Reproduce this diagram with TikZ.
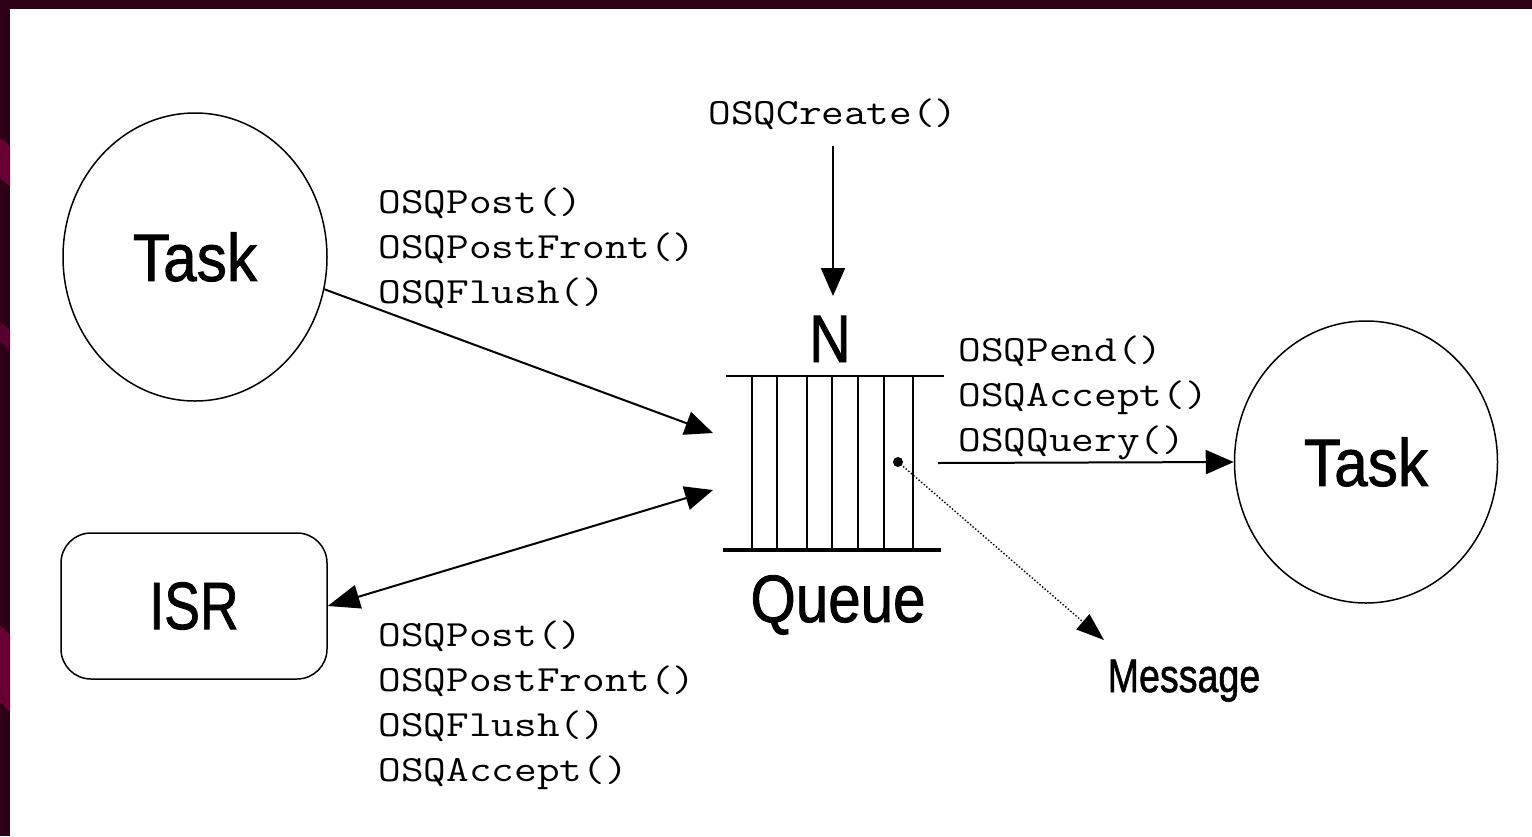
\documentclass[tikz,border=0pt]{standalone}
\usepackage{fontspec}
\setmainfont{Liberation Sans}
\newfontfamily\labelfont[FakeBold=1.3]{Liberation Sans}
\usetikzlibrary{shapes.geometric,arrows.meta}

\definecolor{frameDark}{HTML}{2E0016}
\definecolor{frameMag}{HTML}{560030}
\definecolor{frameRed}{HTML}{680034}

\tikzset{
  task/.style={draw, ellipse, line width=0.75pt, inner sep=0pt, font=\labelfont\fontsize{33.5}{36}\selectfont},
  code/.style={font=\ttfamily\addfontfeatures{FakeBold=0.9}\fontsize{22}{23}\selectfont, inner sep=0pt, anchor=base west},
  big/.style={font=\labelfont\fontsize{33.5}{36}\selectfont, inner sep=0pt, anchor=base},
  arr/.style={line width=1pt, -{Triangle[length=14pt,width=12pt]}},
}
\newcommand{\narrow}[2][0.86]{\scalebox{#1}[1]{#2}}
\newcommand{\codetxt}[1]{\scalebox{1}[0.84]{#1}}

\begin{document}
\begin{tikzpicture}[x=0.5pt, y=-0.5pt]
\useasboundingbox (0,0) rectangle (1532,836);
% frame
\fill[frameDark] (0,0) rectangle (10,836);
\fill[frameRed] (0,138) -- (10,146) -- (10,186) -- (0,178) -- cycle;
\fill[frameMag] (0,322) -- (10,330) -- (10,350) -- (0,342) -- cycle;
\fill[frameRed] (0,625) -- (10,635) -- (10,712) -- (0,702) -- cycle;
\shade[left color=frameDark, middle color=frameMag, right color=frameDark] (0,0) rectangle (1532,8);

% tasks and isr
\node[task, minimum width=132pt, minimum height=144pt] (taskL) at (195,257) {\narrow[0.9]{Task}};
\node[task, minimum width=131.5pt, minimum height=141pt] (taskR) at (1366,462) {\narrow[0.9]{Task}};
\node[draw, rounded corners=15pt, line width=0.75pt, minimum width=133pt, minimum height=73pt,
      inner sep=0pt, font=\labelfont\fontsize{33.5}{36}\selectfont] (isr) at (194,606) {\raisebox{-3.5pt}{\narrow[0.8]{ISR}}};

% queue
\draw[line width=1.2pt] (726,376) -- (944,376);
\draw[line width=2pt] (723,550) -- (941,550);
\foreach \x in {752,777,807,832,858,884,913}
  \draw[line width=1pt] (\x,376) -- (\x,550);
\node[big] (nlab) at (830,362) {\narrow{N}};
\node[big] (queue) at (838,622) {\narrow[0.87]{Queue}};
\coordinate (qin1) at (713,433);
\coordinate (qin2) at (713,490);
\coordinate (qtop) at (833,296);
\coordinate (qout) at (938,463);
\coordinate (qdot) at (898,462);
\fill (qdot) circle (5);

% labels
\node[code, anchor=base] (create) at (833,124) {\codetxt{OSQCreate()}};
\foreach \t [count=\i] in {OSQPost(), OSQPostFront(), OSQFlush()}
  \node[code] (postT\i) at (378,168+45*\i) {\codetxt{\t}};
\foreach \t [count=\i] in {OSQPost(), OSQPostFront(), OSQFlush(), OSQAccept()}
  \node[code] (postI\i) at (378,601+45*\i) {\codetxt{\t}};
\foreach \t [count=\i] in {OSQPend(), OSQAccept(), OSQQuery()}
  \node[code] (pend\i) at (958,316+45*\i) {\codetxt{\t}};
\node[big, font=\labelfont\fontsize{23.5}{25}\selectfont] (msg) at (1184,692) {\narrow[0.8]{Message}};
\coordinate (msgtip) at (1104,640);

% arrows
\draw[arr] (taskL.-14) -- (qin1);
\draw[arr, {Triangle[length=16pt,width=12pt]}-{Triangle[length=14pt,width=12pt]}] (isr.east) -- (qin2);
\draw[arr, shorten <=8pt] (create) -- (qtop);
\draw[arr] (qout) -- (taskR.west);
\draw[line width=0.7pt, densely dotted, -{Triangle[length=14pt,width=10pt]}] (qdot) -- (msgtip);
\end{tikzpicture}
\end{document}
